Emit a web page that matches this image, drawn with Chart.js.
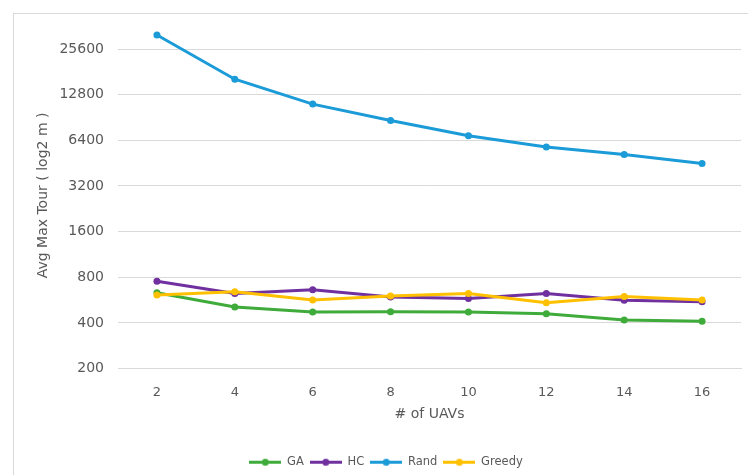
<!DOCTYPE html>
<html>
<head>
<meta charset="utf-8">
<script src="https://cdn.jsdelivr.net/npm/chart.js@4"></script>
<style>
  html, body { margin: 0; padding: 0; background: #fff; overflow: hidden; }
  #frame { position: absolute; left: 13px; top: 13px; width: 800px; height: 500px;
           border-left: 1px solid #d9d9d9; border-top: 1px solid #d9d9d9; }
  #wrap { position: absolute; left: 0; top: 0; width: 748px; height: 480px; }
</style>
</head>
<body>
<div id="frame"></div>
<div id="wrap"><canvas id="c" width="748" height="480"></canvas></div>
<script>
// Number of UAVs on the x axis
const uavCounts = ['2', '4', '6', '8', '10', '12', '14', '16'];

// Average maximum tour length (m) per algorithm
const gaTour     = [632, 509, 472, 473, 472, 460, 418, 410];
const hcTour     = [753, 625, 661, 592, 580, 626, 563, 551];
const randTour   = [31700, 16200, 11100, 8650, 6870, 5790, 5160, 4500];
const greedyTour = [610, 641, 566, 601, 626, 543, 598, 566];

// Log2 axis tick values
const yTicks = [200, 400, 800, 1600, 3200, 6400, 12800, 25600];

const TEXT = '#595959';
const GRID = '#d9d9d9';

// Legend swatch: short line with a dot in the middle
function lineMarker(color) {
  const c = document.createElement('canvas');
  c.width = 32; c.height = 9;
  const g = c.getContext('2d');
  g.strokeStyle = color; g.lineWidth = 3;
  g.beginPath(); g.moveTo(0, 4.5); g.lineTo(32, 4.5); g.stroke();
  g.fillStyle = color;
  g.beginPath(); g.arc(16, 4.5, 3.5, 0, Math.PI * 2); g.fill();
  return c;
}

function series(label, data, color, order) {
  return {
    label, data, order,
    borderColor: color, backgroundColor: color,
    borderWidth: 3, pointRadius: 3.5, pointBorderWidth: 0,
    pointBackgroundColor: color, tension: 0, fill: false
  };
}

new Chart(document.getElementById('c'), {
  type: 'line',
  data: {
    labels: uavCounts,
    datasets: [
      series('GA', gaTour, '#3fab3a', 4),
      series('HC', hcTour, '#7030a0', 3),
      series('Rand', randTour, '#1b9bd7', 2),
      series('Greedy', greedyTour, '#ffc000', 1)
    ]
  },
  options: {
    responsive: false,
    devicePixelRatio: 1,
    animation: false,
    font: { family: 'DejaVu Sans' },
    layout: { padding: { left: 24, right: 0, top: 17, bottom: 2 } },
    plugins: {
      tooltip: { enabled: false },
      legend: {
        position: 'bottom',
        labels: {
          usePointStyle: true,
          pointStyleWidth: 32,
          boxHeight: 9,
          padding: 6,
          color: TEXT,
          font: { family: 'DejaVu Sans', size: 11.5 },
          generateLabels: (chart) => chart.data.datasets.map((ds, i) => ({
            text: ds.label,
            fillStyle: ds.borderColor,
            strokeStyle: ds.borderColor,
            lineWidth: 0,
            pointStyle: lineMarker(ds.borderColor),
            hidden: !chart.isDatasetVisible(i),
            datasetIndex: i,
            fontColor: TEXT
          }))
        }
      }
    },
    scales: {
      x: {
        type: 'category',
        offset: true,
        grid: { display: false, drawTicks: false },
        border: { display: true, color: GRID },
        ticks: { color: TEXT, padding: 16, font: { family: 'DejaVu Sans', size: 13 } },
        title: { display: true, text: '# of UAVs', color: TEXT, padding: { top: 4, bottom: 28 },
                 font: { family: 'DejaVu Sans', size: 14 } },
        afterFit: (s) => { s.height = 82; }
      },
      y: {
        type: 'logarithmic',
        min: 200,
        max: 38400,
        afterBuildTicks: (s) => { s.ticks = yTicks.map(v => ({ value: v })); },
        grid: { color: GRID, lineWidth: 1, drawTicks: false },
        border: { display: false },
        ticks: { color: TEXT, padding: 14, font: { family: 'DejaVu Sans', size: 14 },
                 callback: (v) => String(v) },
        title: { display: true, text: 'Avg Max Tour ( log2 m )', color: TEXT,
                 padding: { top: 11, bottom: 4 }, font: { family: 'DejaVu Sans', size: 14 } },
        afterFit: (s) => { s.width = 94; }
      },
      yPad: {
        type: 'linear',
        position: 'right',
        display: true,
        grid: { display: false },
        border: { display: false },
        ticks: { display: false },
        afterFit: (s) => { s.width = 7; }
      }
    }
  }
});
</script>
</body>
</html>
